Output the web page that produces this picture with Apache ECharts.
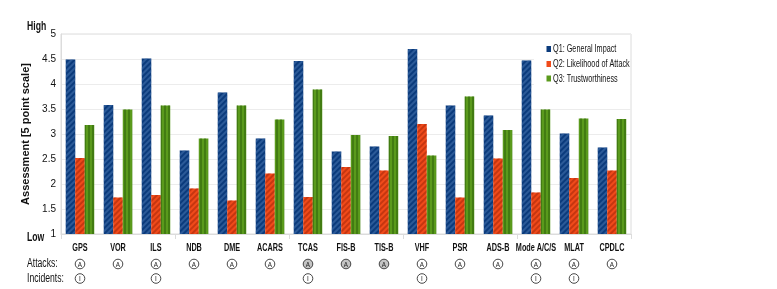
<!DOCTYPE html>
<html><head><meta charset="utf-8">
<script src="https://cdn.jsdelivr.net/npm/echarts@6/dist/echarts.min.js"></script>
<style>html,body{margin:0;padding:0;background:#fff}#c{width:777px;height:289px}</style>
</head><body><div id="c"></div>
<script>
const categories = ['GPS','VOR','ILS','NDB','DME','ACARS','TCAS','FIS-B','TIS-B','VHF','PSR','ADS-B','Mode A/C/S','MLAT','CPDLC'];
const q1 = [4.49,3.58,4.51,2.67,3.83,2.91,4.46,2.65,2.75,4.70,3.57,3.37,4.47,3.01,2.73];
const q2 = [2.52,1.73,1.78,1.91,1.67,2.21,1.74,2.34,2.27,3.20,1.73,2.51,1.83,2.12,2.27];
const q3 = [3.18,3.49,3.57,2.91,3.57,3.29,3.89,2.98,2.96,2.57,3.75,3.08,3.49,3.31,3.30];
// attack marker per system: 'A' = outlined, 'G' = grey-filled
const attacks = ['A','A','A','A','A','A','G','G','G','A','A','A','A','A','A'];
// incident marker per system: 1 = shown
const incidents = [1,0,1,0,0,0,1,0,0,1,0,0,1,1,0];
const seriesNames = ['Q1: General Impact','Q2: Likelihood of Attack','Q3: Trustworthiness'];
const yMin = 1, yMax = 5, yStep = 0.5;

const FONT = "'Liberation Sans',Arial,sans-serif";
const NARROW = 0.72;
const chart = echarts.init(document.getElementById('c'), null, {renderer:'canvas'});

function diag(c){return {symbol:'rect',symbolSize:1,color:c,dashArrayX:[1,0],dashArrayY:[1.2,1.8],rotation:-Math.PI/4};}
function vert(c){return {symbol:'rect',symbolSize:1,color:c,dashArrayX:[1.2,1.8],dashArrayY:[1,0],rotation:0};}

const colors = ['#0b3b7c','#f04a1a','#5a9a1c'];
const decals = [diag('rgba(70,115,175,0.55)'), diag('rgba(170,40,10,0.6)'), vert('rgba(45,100,10,0.55)')];
const values = [q1,q2,q3];

function ntext(txt, x, y, size, weight, extra, sx){
  return Object.assign({type:'text',x:x,y:y,scaleX:sx||NARROW,
    style:{text:txt,fontSize:size,fontWeight:weight||'normal',fontFamily:FONT,fill:'#111',
      align:'left',verticalAlign:'middle'}}, extra||{});
}

// legend drawn as narrow text (condensed look)
const legendRows = [49,64,78.5];
const legendGraphics = [{type:'rect',shape:{x:534,y:35,width:96,height:55},style:{fill:'#fff'},z:5}];
seriesNames.forEach((n,k)=>{
  legendGraphics.push({type:'rect',shape:{x:546.5,y:legendRows[k]-3,width:4.5,height:6},style:{fill:colors[k]},z:6});
  legendGraphics.push(ntext(n,553,legendRows[k],11,'normal',{z:6},0.66));
});

function circleMark(cx, cy, txt, grey){
  return [
    {type:'circle',shape:{cx:cx,cy:cy,r:4.8},style:{fill:grey?'#c4c4c4':'#fff',stroke:'#333',lineWidth:0.9}},
    {type:'text',x:cx,y:cy+0.5,scaleX:0.85,style:{text:txt,fontSize:7.5,fontFamily:FONT,fill:'#222',align:'center',verticalAlign:'middle'}}
  ];
}

chart.setOption({
  animation:false,
  textStyle:{fontFamily:FONT},
  grid:{left:61,right:146,top:34,bottom:55,show:true,borderColor:'#dcdcdc',borderWidth:1},
  xAxis:{type:'category',data:categories,
    axisLine:{lineStyle:{color:'#dcdcdc'}},
    axisTick:{show:true,length:5,lineStyle:{color:'#dcdcdc'}},
    axisLabel:{show:false}},
  yAxis:{type:'value',min:yMin,max:yMax,interval:yStep,
    name:'Assessment [5 point scale]',nameLocation:'middle',nameGap:18,
    nameTextStyle:{fontSize:11,fontWeight:'bold',color:'#111',fontFamily:FONT},
    axisLine:{show:true,lineStyle:{color:'#dcdcdc'}},axisTick:{show:false},
    splitLine:{lineStyle:{color:'#ececec'}},
    axisLabel:{fontSize:10,color:'#111',margin:5,fontFamily:FONT}},
  graphic:[
    ntext('High',27,27,12,'bold'),
    ntext('Low',27,238,12,'bold'),
    ntext('Attacks:',27,264,12,'normal'),
    ntext('Incidents:',27,278.5,12,'normal')
  ].concat(legendGraphics),
  series:values.map((d,k)=>({
    name:seriesNames[k],type:'bar',data:d,barWidth:9.5,barGap:'0%',
    itemStyle:{color:colors[k],decal:decals[k]},
    emphasis:{disabled:true}
  })).concat([{
    name:'labels',type:'custom',silent:true,clip:false,z:10,
    data:categories.map((c,i)=>[i]),
    encode:{x:0},
    renderItem:function(params, api){
      const i = api.value(0);
      const p = api.coord([i, yMin]);
      const x = p[0], y0 = p[1];
      let children = [{type:'text',x:x,y:y0+14,scaleX:0.66,
        style:{text:categories[i],fontSize:11,fontWeight:'bold',fontFamily:FONT,fill:'#111',align:'center',verticalAlign:'middle'}}];
      children = children.concat(circleMark(x, y0+30, 'A', attacks[i]==='G'));
      if (incidents[i]) children = children.concat(circleMark(x, y0+44.5, 'I', false));
      return {type:'group',children:children};
    }
  }])
});
</script></body></html>
